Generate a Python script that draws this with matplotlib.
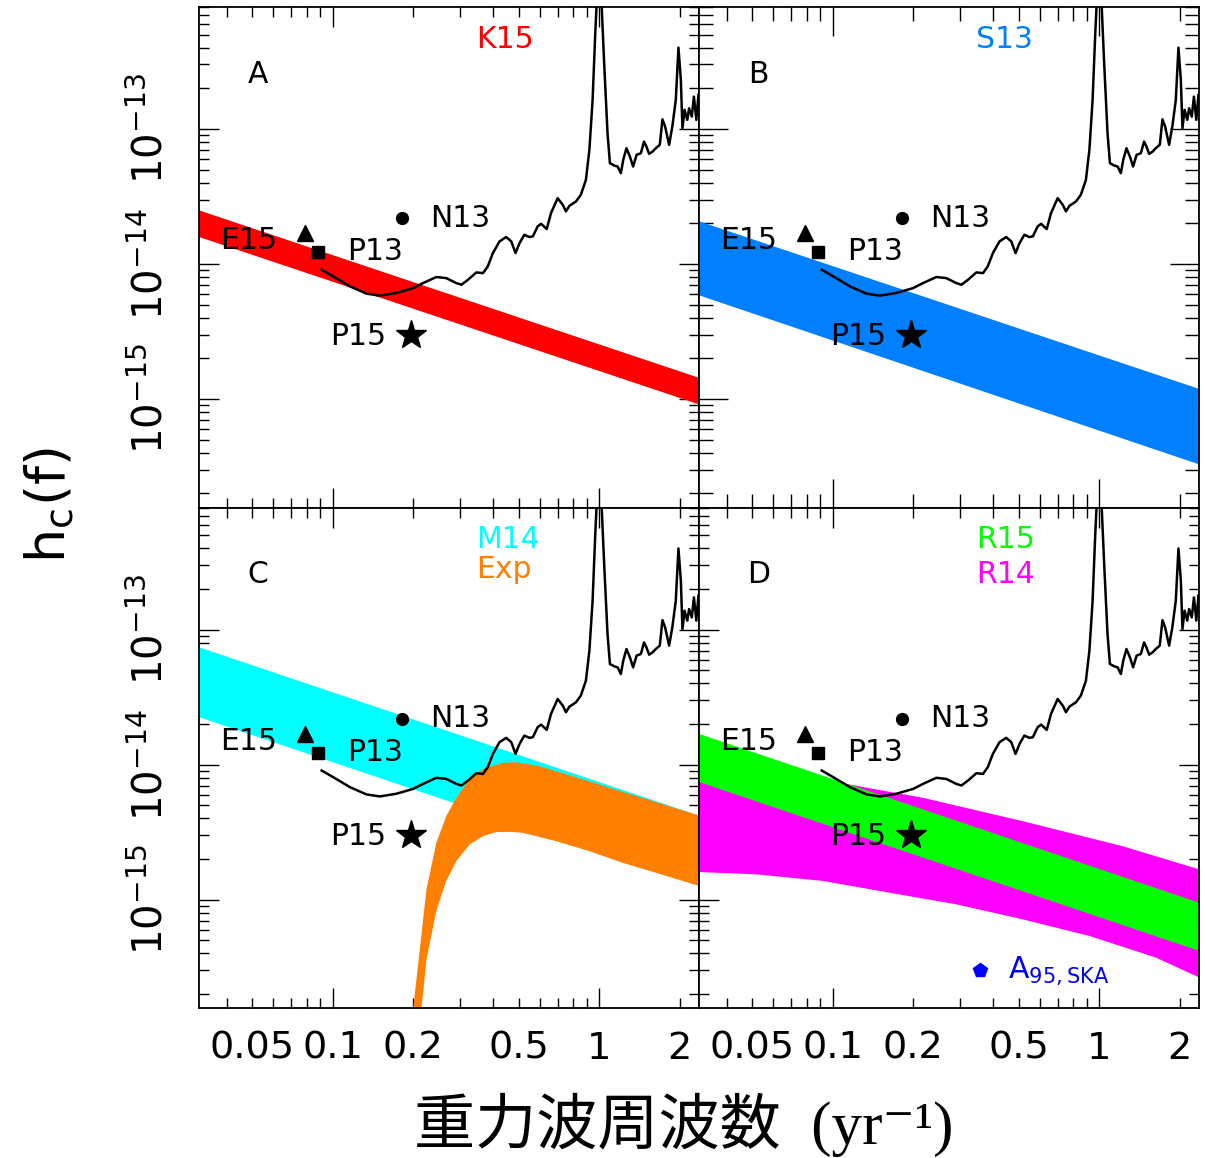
import numpy as np
import matplotlib
matplotlib.use("Agg")
import matplotlib.pyplot as plt
from matplotlib.ticker import FixedLocator, FuncFormatter, NullFormatter

X_RANGE_LOG = (-1.5, 0.375)
Y_RANGE_LOG = (-15.804, -12.095)

x_tick_values = [0.05, 0.1, 0.2, 0.5, 1.0, 2.0]
x_tick_texts = ["0.05", "0.1", "0.2", "0.5", "1", "2"]
y_tick_exponents = [-15, -14, -13]

# Empfindlichkeitskurve (schwarz), in allen Panels gleich
sens_logf = [-1.041, -0.998, -0.935, -0.873, -0.823, -0.761, -0.698, -0.661, -0.611, -0.574,
             -0.536, -0.517, -0.492, -0.461, -0.436, -0.418, -0.399, -0.374, -0.349, -0.330,
             -0.314, -0.299, -0.281, -0.262, -0.249, -0.231, -0.218, -0.197, -0.181, -0.156,
             -0.137, -0.125, -0.112, -0.087, -0.069, -0.050, -0.037, -0.025, -0.015, -0.008,
             0.000, 0.007, 0.019, 0.031, 0.040, 0.056, 0.069, 0.081, 0.090, 0.102,
             0.115, 0.127, 0.140, 0.156, 0.168, 0.177, 0.187, 0.200, 0.212, 0.227,
             0.237, 0.247, 0.262, 0.274, 0.287, 0.297, 0.306, 0.312, 0.320, 0.330,
             0.337, 0.347, 0.355, 0.364, 0.372]
sens_logh = [-14.043, -14.092, -14.166, -14.220, -14.235, -14.215, -14.179, -14.142, -14.097, -14.105,
             -14.142, -14.154, -14.117, -14.063, -14.068, -14.018, -13.920, -13.833, -13.801, -13.833,
             -13.920, -13.846, -13.784, -13.801, -13.796, -13.722, -13.703, -13.742, -13.624, -13.513,
             -13.562, -13.611, -13.570, -13.537, -13.488, -13.377, -13.155, -12.786, -12.292, -12.0,
             -11.0, -12.0, -12.539, -13.032, -13.254, -13.271, -13.279, -13.328, -13.229, -13.143,
             -13.205, -13.279, -13.192, -13.180, -13.094, -13.131, -13.185, -13.168, -13.143, -13.118,
             -12.929, -12.983, -13.118, -12.983, -12.786, -12.398, -12.638, -12.995, -12.859, -12.933,
             -12.847, -12.909, -12.761, -12.933, -12.748]

# gerade Baender (Potenzgesetz): Rand links/rechts
band_logf = [-1.5, 0.375]
k15_top = [-13.604, -14.844]
k15_bot = [-13.801, -15.041]
s13_top = [-13.685, -14.926]
s13_bot = [-14.233, -15.485]
m14_top = [-13.131, -14.378]
m14_bot = [-13.648, -14.896]
r15_top = [-13.772, -15.022]
r15_bot = [-14.129, -15.379]

# gekruemmte Baender
exp_top_logf = [-0.708, -0.673, -0.648, -0.611, -0.574, -0.536, -0.486, -0.436, -0.362, -0.312,
                -0.224, -0.100, 0.087, 0.375]
exp_top_logh = [-15.983, -15.367, -14.923, -14.578, -14.381, -14.245, -14.109, -14.031, -13.986, -13.981,
                -14.011, -14.085, -14.201, -14.376]
exp_bot_logf = [-0.676, -0.648, -0.611, -0.574, -0.536, -0.486, -0.436, -0.387, -0.337, -0.287,
                -0.162, -0.037, 0.087, 0.212, 0.375]
exp_bot_logh = [-15.983, -15.441, -15.083, -14.861, -14.714, -14.590, -14.529, -14.499, -14.497, -14.504,
                -14.566, -14.640, -14.726, -14.800, -14.898]

r14_top_logf = [-1.5, -1.222, -0.973, -0.661, -0.287, 0.087, 0.375]
r14_top_logh = [-14.0, -14.072, -14.134, -14.245, -14.418, -14.603, -14.775]
r14_bot_logf = [-1.5, -1.284, -1.035, -0.786, -0.536, -0.287, -0.037, 0.212, 0.375]
r14_bot_logh = [-14.795, -14.812, -14.861, -14.948, -15.034, -15.145, -15.268, -15.428, -15.576]

# Messpunkte (f in 1/yr, h_c)
e15_point = (0.0788, 1.69e-14)
p13_point = (0.0884, 1.22e-14)
n13_point = (0.182, 2.19e-14)
p15_point = (0.196, 3.0e-15)
ska_point = (0.356, 3.02e-16)

# --- STYLE ---
C_RED = "#ff0000"
C_BLUE = "#0080ff"
C_CYAN = "#00ffff"
C_ORANGE = "#ff8000"
C_GREEN = "#00ff00"
C_MAGENTA = "#ff00ff"
FONT_PANEL = 21.5

plt.rcParams["font.family"] = ["DejaVu Sans"]
plt.rcParams["mathtext.fontset"] = "dejavusans"


def lin(vals):
    return 10 ** np.asarray(vals, dtype=float)


def fill_band(ax, top_f, top_h, bot_f, bot_h, color):
    xs = np.concatenate([lin(top_f), lin(bot_f)[::-1]])
    ys = np.concatenate([lin(top_h), lin(bot_h)[::-1]])
    ax.fill(xs, ys, color=color, lw=0, zorder=2)


def minor_positions(lo_log, hi_log):
    out = []
    for e in range(int(np.floor(lo_log)), int(np.ceil(hi_log)) + 1):
        for m in range(2, 10):
            v = m * 10.0 ** e
            if 10 ** lo_log < v < 10 ** hi_log:
                out.append(v)
    return out


def decade_positions(lo_log, hi_log):
    return [10.0 ** e for e in range(int(np.ceil(lo_log)), int(np.floor(hi_log)) + 1)]


def x_label_for(v, pos):
    for val, txt in zip(x_tick_values, x_tick_texts):
        if abs(v / val - 1) < 1e-6:
            return txt
    return ""


def y_label_for(v, pos):
    return r"$10^{%d}$" % int(round(np.log10(v)))


def setup_axis(ax, left, bottom, big_ticks=False):
    ax.set_xscale("log")
    ax.set_yscale("log")
    ax.set_xlim(10 ** X_RANGE_LOG[0], 10 ** X_RANGE_LOG[1])
    ax.set_ylim(10 ** Y_RANGE_LOG[0], 10 ** Y_RANGE_LOG[1])

    ax.xaxis.set_major_locator(FixedLocator(decade_positions(*X_RANGE_LOG)))
    ax.xaxis.set_minor_locator(FixedLocator(minor_positions(*X_RANGE_LOG)))
    ax.xaxis.set_major_formatter(FuncFormatter(x_label_for))
    ax.xaxis.set_minor_formatter(FuncFormatter(x_label_for))
    ax.yaxis.set_major_locator(FixedLocator([10.0 ** e for e in y_tick_exponents]))
    ax.yaxis.set_minor_locator(FixedLocator(minor_positions(*Y_RANGE_LOG)))
    ax.yaxis.set_major_formatter(FuncFormatter(y_label_for))
    ax.yaxis.set_minor_formatter(NullFormatter())

    maj, mnr = (20.9, 10.0) if big_ticks else (14.4, 7.2)
    ax.tick_params(which="both", direction="in", top=True, right=True, width=1.0)
    ax.tick_params(which="major", length=maj)
    ax.tick_params(which="minor", length=mnr)
    ax.tick_params(axis="x", which="both", labelsize=27.5, pad=16, labelbottom=bottom)
    ax.tick_params(axis="y", which="both", labelsize=29, pad=20, labelleft=left,
                   labelrotation=90)
    for lab in ax.get_yticklabels():
        lab.set_verticalalignment("center")
    for sp in ax.spines.values():
        sp.set_linewidth(1.3)


def draw_common(ax, letter):
    ax.plot(lin(sens_logf), lin(sens_logh), color="black", lw=1.8, zorder=3)
    ax.plot(*e15_point, marker="^", ms=11, color="black", zorder=4)
    ax.plot(*p13_point, marker="s", ms=8, color="black", zorder=4)
    ax.plot(*n13_point, marker="o", ms=8.5, color="black", zorder=4)
    ax.plot(*p15_point, marker="*", ms=22, color="black", zorder=4)

    tr = ax.transAxes
    ax.text(0.1178, 0.8484, letter, ha="center", va="baseline", fontsize=FONT_PANEL, transform=tr)
    ax.text(0.0413, 0.5161, "E15", ha="left", va="baseline", fontsize=FONT_PANEL, transform=tr, zorder=5)
    ax.text(0.2956, 0.4947, "P13", ha="left", va="baseline", fontsize=FONT_PANEL, transform=tr, zorder=5)
    ax.text(0.4622, 0.5611, "N13", ha="left", va="baseline", fontsize=FONT_PANEL, transform=tr, zorder=5)
    ax.text(0.2610, 0.3252, "P15", ha="left", va="baseline", fontsize=FONT_PANEL, transform=tr, zorder=5)


fig = plt.figure(figsize=(12.05, 11.58), dpi=100)

W = 0.4149
H = 0.43247
ax_a = fig.add_axes([0.16539, 0.56174, W, H])
ax_b = fig.add_axes([0.58033, 0.56174, W, H])
ax_c = fig.add_axes([0.16539, 0.12927, W, H])
ax_d = fig.add_axes([0.58033, 0.12927, W, H])

# Panel A
fill_band(ax_a, band_logf, k15_top, band_logf, k15_bot, C_RED)
draw_common(ax_a, "A")
ax_a.text(0.554, 0.917, "K15", color=C_RED, fontsize=FONT_PANEL, va="baseline", transform=ax_a.transAxes)
setup_axis(ax_a, left=True, bottom=False)

# Panel B
fill_band(ax_b, band_logf, s13_top, band_logf, s13_bot, C_BLUE)
draw_common(ax_b, "B")
ax_b.text(0.554, 0.917, "S13", color=C_BLUE, fontsize=FONT_PANEL, va="baseline", transform=ax_b.transAxes)
setup_axis(ax_b, left=False, bottom=False, big_ticks=True)

# Panel C
fill_band(ax_c, band_logf, m14_top, band_logf, m14_bot, C_CYAN)
fill_band(ax_c, exp_top_logf, exp_top_logh, exp_bot_logf, exp_bot_logh, C_ORANGE)
draw_common(ax_c, "C")
ax_c.text(0.554, 0.9186, "M14", color=C_CYAN, fontsize=FONT_PANEL, va="baseline", transform=ax_c.transAxes)
ax_c.text(0.554, 0.8588, "Exp", color=C_ORANGE, fontsize=FONT_PANEL, va="baseline", transform=ax_c.transAxes)
setup_axis(ax_c, left=True, bottom=True)

# Panel D
fill_band(ax_d, r14_top_logf, r14_top_logh, r14_bot_logf, r14_bot_logh, C_MAGENTA)
fill_band(ax_d, band_logf, r15_top, band_logf, r15_bot, C_GREEN)
draw_common(ax_d, "D")
ax_d.plot(*ska_point, marker="p", ms=10.5, color="#0000ff", zorder=4)
ax_d.text(0.617, 0.0608, r"A$_{\mathrm{95,SKA}}$", color="#0000ff", fontsize=FONT_PANEL,
          va="baseline", transform=ax_d.transAxes)
ax_d.text(0.554, 0.9186, "R15", color=C_GREEN, fontsize=FONT_PANEL, va="baseline", transform=ax_d.transAxes)
ax_d.text(0.554, 0.8488, "R14", color=C_MAGENTA, fontsize=FONT_PANEL, va="baseline", transform=ax_d.transAxes)
setup_axis(ax_d, left=False, bottom=True)

# Achsentitel
fig.text(0.0407, 0.5635, r"$\mathrm{h_c(f)}$", rotation=90, fontsize=39, ha="center", va="center")
fig.text(0.5676, 0.0125, "重力波周波数  (yr⁻¹)", fontsize=44, ha="center", va="baseline",
         family=["Liberation Serif", "Noto Sans CJK JP", "DejaVu Serif"])

fig.savefig("out.png", dpi=100)
